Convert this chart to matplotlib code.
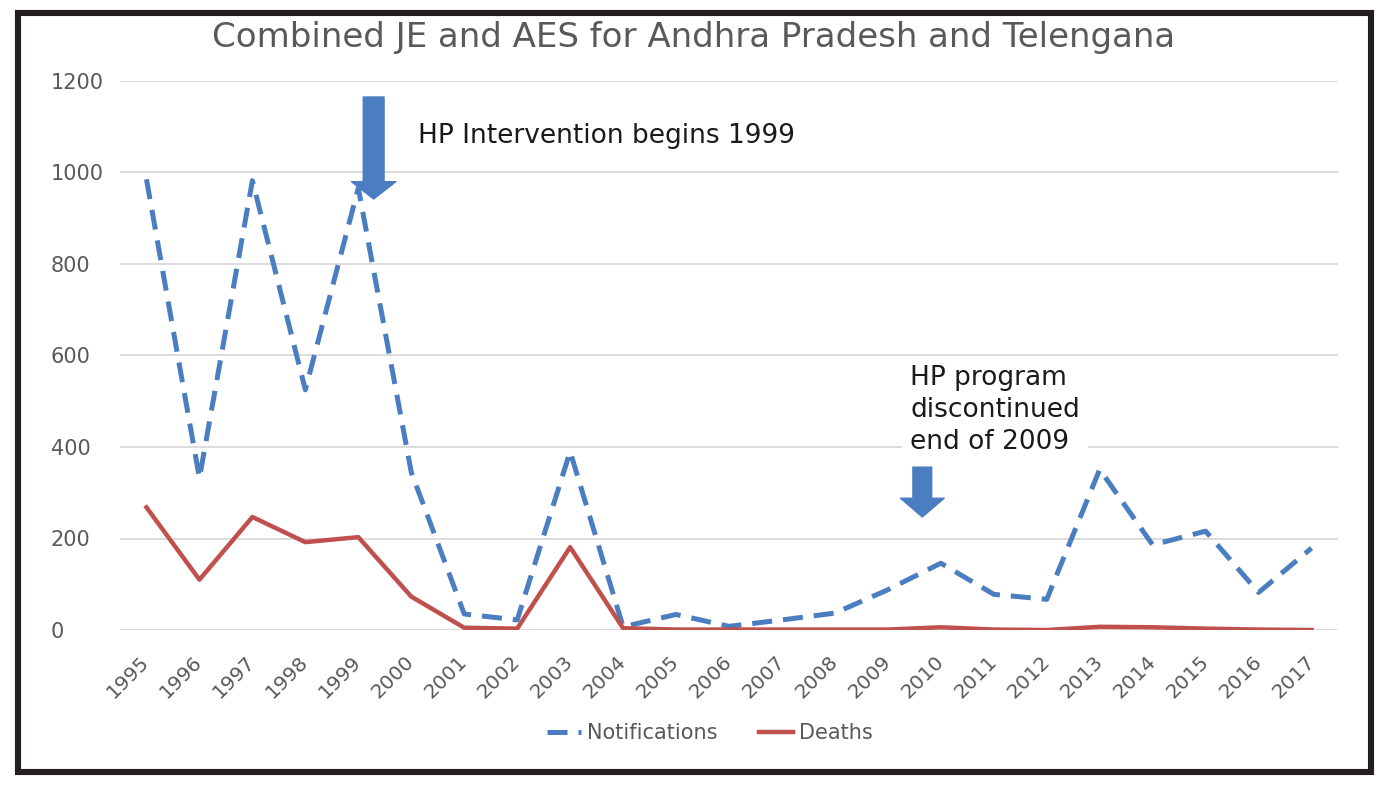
import matplotlib
matplotlib.use("Agg")
from matplotlib import pyplot as plt
from matplotlib.patches import Rectangle

# donnees
years = list(range(1995, 2018))
notifications = [985, 332, 982, 525, 966, 345, 35, 22, 390, 7, 34, 8, 22, 37,
                 88, 146, 78, 67, 351, 186, 216, 82, 179]
deaths = [268, 110, 247, 192, 203, 73, 5, 3, 181, 4, 1, 1, 1, 1,
          1, 6, 1, 0, 7, 6, 3, 1, 0]

blue = '#4A7EC1'
red = '#C0504D'
grey = '#595959'

fig = plt.figure(figsize=(13.88, 7.92), dpi=100)
ax = fig.add_axes([120 / 1388, 1 - 630 / 792, 1218 / 1388, 549 / 792])

ax.plot(years, notifications, color=blue, lw=3.6, dashes=(4, 2.2),
        label='Notifications', zorder=3)
ax.plot(years, deaths, color=red, lw=3.2, label='Deaths', zorder=3)

ax.set_xlim(1994.5, 2017.5)
ax.set_ylim(0, 1200)
ax.set_yticks(range(0, 1201, 200))
ax.set_xticks(years)
ax.grid(axis='y', color='#D9D9D9', lw=1.3)
ax.set_axisbelow(True)
for s in ax.spines.values():
    s.set_visible(False)

ax.tick_params(axis='y', length=0, pad=50, labelsize=15, labelcolor=grey)
for lab in ax.get_yticklabels():
    lab.set_horizontalalignment('left')
ax.tick_params(axis='x', length=0, pad=21, labelsize=14.5, labelcolor=grey)
for lab in ax.get_xticklabels():
    lab.set_rotation(45)
    lab.set_horizontalalignment('right')
    lab.set_verticalalignment('center')
    lab.set_rotation_mode('anchor')

# fleches
ax.annotate('', xy=(1999.29, 942), xytext=(1999.29, 1165),
            arrowprops=dict(arrowstyle='simple,head_length=12.5,head_width=32,tail_width=15',
                            mutation_scale=1, color=blue, shrinkA=0, shrinkB=0), zorder=5)
ax.annotate('', xy=(2009.65, 247), xytext=(2009.65, 356),
            arrowprops=dict(arrowstyle='simple,head_length=13.5,head_width=31.5,tail_width=13.5',
                            mutation_scale=1, color=blue, shrinkA=0, shrinkB=0), zorder=5)

fig.text(418 / 1388, 1 - 143 / 792, 'HP Intervention begins 1999', fontsize=19,
         color='#1A1A1A', va='baseline', ha='left')
ax.text(2009.42, 481, 'HP program\ndiscontinued\nend of 2009', fontsize=19,
        color='#1A1A1A', va='center', ha='left', linespacing=1.3,
        bbox=dict(facecolor='white', edgecolor='none', pad=6), zorder=4)

fig.text(694 / 1388, 1 - 38 / 792, 'Combined JE and AES for Andhra Pradesh and Telengana',
         fontsize=24.5, color=grey, ha='center', va='center')

fig.legend(loc='center', bbox_to_anchor=(710 / 1388, 1 - 733 / 792), ncol=2,
           frameon=False, fontsize=15, labelcolor=grey, handlelength=1.6,
           handletextpad=0.3, columnspacing=2.0)

# cadre noir
fig.patches.append(Rectangle((18 / 1388, 1 - 772 / 792), 1353 / 1388, 759 / 792,
                             transform=fig.transFigure, fill=False,
                             edgecolor='#231F20', lw=4.4))

plt.savefig('out.png', dpi=100)
